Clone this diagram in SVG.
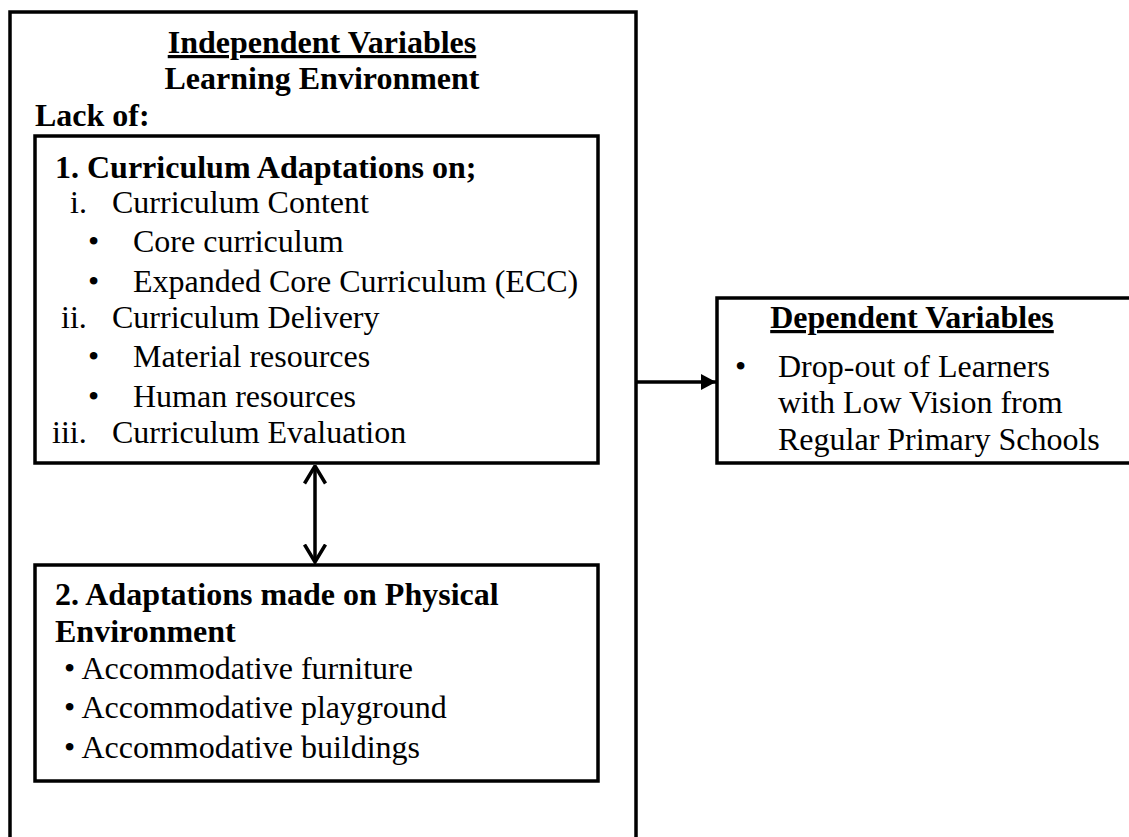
<svg xmlns="http://www.w3.org/2000/svg" width="1129" height="837" viewBox="0 0 1129 837">
<style>
text{font-family:'Liberation Serif','Times New Roman','DejaVu Serif',serif;font-size:32px;fill:#000}
.b{font-weight:bold}
.u{text-decoration:underline}
.box{fill:none;stroke:#000;stroke-width:3.5}
.conn{fill:none;stroke:#000;stroke-width:3.5}
</style>
<defs>
<marker id="open" viewBox="0 0 20 24" refX="18.5" refY="12" markerWidth="20" markerHeight="24" markerUnits="userSpaceOnUse" orient="auto-start-reverse">
<path d="M1,1.5 L18.5,12 L1,22.5" fill="none" stroke="#000" stroke-width="3.5" stroke-linejoin="miter"/>
</marker>
<marker id="tri" viewBox="0 0 15 16" refX="15" refY="8" markerWidth="15" markerHeight="16" markerUnits="userSpaceOnUse" orient="auto">
<path d="M0,0 L15,8 L0,16 Z" fill="#000"/>
</marker>
<clipPath id="depclip"><rect x="717" y="298" width="420" height="159"/></clipPath>
</defs>
<rect width="1129" height="837" fill="#fff"/>
<g id="independent">
<rect class="box" x="10" y="12" width="626" height="860"/>
<text class="b u" x="322" y="53" text-anchor="middle">Independent Variables</text>
<text class="b" x="322" y="89" text-anchor="middle">Learning Environment</text>
<text class="b" x="35" y="126">Lack of:</text>
</g>
<g id="curriculum">
<rect class="box" x="35" y="136" width="563" height="327"/>
<text class="b" x="55" y="178">1. Curriculum Adaptations on;</text>
<text x="70" y="213">i.</text>
<text x="112" y="213">Curriculum Content</text>
<text x="88" y="252">•</text>
<text x="133" y="252">Core curriculum</text>
<text x="88" y="292">•</text>
<text x="133" y="292">Expanded Core Curriculum (ECC)</text>
<text x="61" y="328">ii.</text>
<text x="112" y="328">Curriculum Delivery</text>
<text x="88" y="367">•</text>
<text x="133" y="367">Material resources</text>
<text x="88" y="407">•</text>
<text x="133" y="407">Human resources</text>
<text x="52" y="443">iii.</text>
<text x="112" y="443">Curriculum Evaluation</text>
</g>
<g id="physical">
<rect class="box" x="35" y="565" width="563" height="216"/>
<text class="b" x="55" y="605">2. Adaptations made on Physical</text>
<text class="b" x="55" y="642">Environment</text>
<text x="64" y="679">• Accommodative furniture</text>
<text x="64" y="718">• Accommodative playground</text>
<text x="64" y="758">• Accommodative buildings</text>
</g>
<g id="dependent">
<rect class="box" x="717" y="298" width="430" height="165"/>
<text class="b u" x="912" y="328" text-anchor="middle">Dependent Variables</text>
<g clip-path="url(#depclip)">
<text x="735" y="377">•</text>
<text x="778" y="377">Drop-out of Learners</text>
<text x="778" y="413">with Low Vision from</text>
<text x="778" y="450">Regular Primary Schools</text>
</g>
</g>
<g id="connectors">
<line class="conn" x1="315" y1="466" x2="315" y2="562" marker-start="url(#open)" marker-end="url(#open)"/>
<line class="conn" x1="636" y1="382" x2="716" y2="382" marker-end="url(#tri)"/>
</g>
</svg>
